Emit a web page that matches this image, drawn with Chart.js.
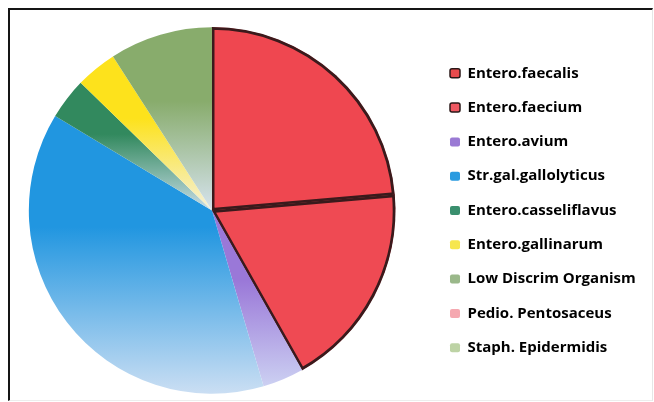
<!DOCTYPE html>
<html>
<head>
<meta charset="utf-8">
<script src="https://cdn.jsdelivr.net/npm/chart.js@4"></script>
<style>
  html, body { margin: 0; padding: 0; background: #ffffff; }
  #wrap { position: relative; width: 654px; height: 402px; }
  #frame { position: absolute; left: 8px; top: 8px; width: 642px; height: 390px;
           border-left: 2px solid #151515; border-top: 2px solid #151515;
           border-right: 1px solid #e6e6e6; border-bottom: 1px solid #ededed; pointer-events: none; }
</style>
</head>
<body>
<div id="wrap">
  <canvas id="c" width="654" height="402"></canvas>
  <div id="frame"></div>
</div>
<script>
const categories = ["Entero.faecalis", "Entero.faecium", "Entero.avium", "Str.gal.gallolyticus",
  "Entero.casseliflavus", "Entero.gallinarum", "Low Discrim Organism", "Pedio. Pentosaceus", "Staph. Epidermidis"];
const counts = [13, 10, 2, 21, 2, 2, 5, 0, 0];
const sliceColors = ["#ef4750", "#ef4a53", "#9a78d8", "#2196e0", "#32895e", "#fde21c", "#88ac6c", "#f4a3aa", "#b9cf9f"];
const sliceLight  = ["#ef4750", "#ef4a53", "#ccd0f2", "#cadef3", "#c9dde8", "#f5f1dc", "#d6e3ee", "#f8d0d4", "#dfe9d4"];
const legendColors = ["#e84a4c", "#ef5861", "#9a7ad4", "#2a9be0", "#3a8f6e", "#f6e64e", "#9ab88a", "#f5a8b0", "#bdd3a5"];
const legendBorder = ["#2a1818", "#2a1818", null, null, null, null, null, null, null];

const FONT = { family: "'Open Sans'", size: 15, weight: "bold" };
const BOX = 10;
const PAD = 19.3;

// layout helpers (positions only)
const mctx = document.createElement("canvas").getContext("2d");
mctx.font = "bold 15px 'Open Sans'";
const maxText = Math.max(...categories.map(t => mctx.measureText(t).width));
const colW = BOX + FONT.size / 2 + maxText;
const pieCenterX = 212;
const areaRight = 2 * pieCenterX;            // chart area from 0 to 424
const padRight = 654 - areaRight - (PAD + colW + 10);
const legendBoxX = 450;

const legendShift = {
  id: "legendShift",
  afterLayout(chart) {
    const lg = chart.legend;
    if (!lg) return;
    const dx = (legendBoxX - PAD) - lg.left;
    lg.left += dx; lg.right += dx;
  }
};

function sliceFill(ctx) {
  const i = ctx.dataIndex;
  const chart = ctx.chart;
  const ca = chart.chartArea;
  if (!ca || i < 2) return sliceColors[i];
  const total = counts.reduce((a, b) => a + b, 0);
  let before = 0;
  for (let k = 0; k < i; k++) before += counts[k];
  const a0 = before / total * Math.PI * 2;
  const a1 = (before + counts[i]) / total * Math.PI * 2;
  const cx = (ca.left + ca.right) / 2, cy = (ca.top + ca.bottom) / 2;
  const r = Math.min(ca.width, ca.height) / 2 - 1;
  const ys = [cy, cy - r * Math.cos(a0), cy - r * Math.cos(a1)];
  if (a0 <= Math.PI && a1 >= Math.PI) ys.push(cy + r);
  if (a1 >= Math.PI * 2 - 1e-6 || a0 <= 1e-6) ys.push(cy - r);
  const yt = Math.min(...ys), yb = Math.max(...ys);
  if (yb - yt < 1) return sliceColors[i];
  const g = chart.ctx.createLinearGradient(0, yt, 0, yb);
  g.addColorStop(0, sliceColors[i]);
  g.addColorStop(0.4, sliceColors[i]);
  g.addColorStop(1, sliceLight[i]);
  return g;
}

new Chart(document.getElementById("c"), {
  type: "pie",
  data: {
    labels: categories,
    datasets: [{
      data: counts,
      backgroundColor: sliceFill,
      borderColor: ["#3a1a1c", "#3a1a1c", "rgba(0,0,0,0)", "rgba(0,0,0,0)", "rgba(0,0,0,0)", "rgba(0,0,0,0)", "rgba(0,0,0,0)", "rgba(0,0,0,0)", "rgba(0,0,0,0)"],
      borderWidth: [2.5, 2.5, 0, 0, 0, 0, 0, 0, 0],
      borderAlign: "inner"
    }]
  },
  plugins: [legendShift],
  options: {
    responsive: false,
    animation: false,
    devicePixelRatio: 1,
    layout: { padding: { left: 0, right: padRight, top: 27, bottom: 8 } },
    plugins: {
      tooltip: { enabled: false },
      legend: {
        position: "right",
        labels: {
          boxWidth: BOX,
          boxHeight: 9,
          padding: PAD,
          color: "#1c1c1c",
          font: FONT,
          generateLabels: (chart) => categories.map((t, i) => ({
            text: t,
            fillStyle: legendColors[i],
            strokeStyle: legendBorder[i] || legendColors[i],
            lineWidth: legendBorder[i] ? 1.5 : 0,
            borderRadius: 2,
            hidden: false,
            index: i
          }))
        }
      }
    }
  }
});
</script>
</body>
</html>
